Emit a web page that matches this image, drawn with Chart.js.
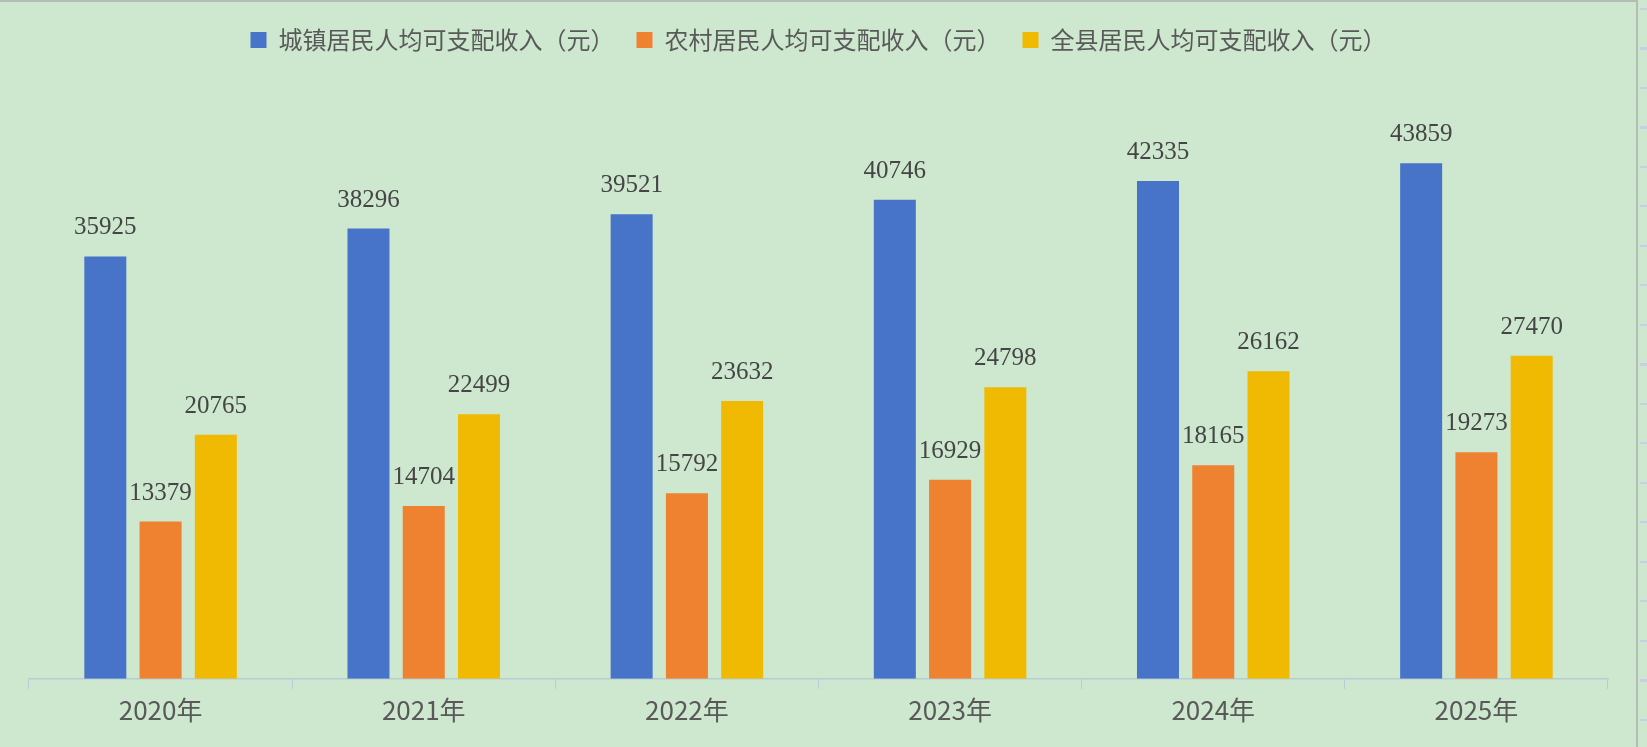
<!DOCTYPE html>
<html>
<head>
<meta charset="utf-8">
<script src="https://cdn.jsdelivr.net/npm/chart.js@4"></script>
<style>
  html, body { margin: 0; padding: 0; background: #cde8cf; overflow: hidden; }
  #wrap {
    position: absolute; left: 0; top: 0; width: 1638px; height: 747px;
    background: #cde8cf; border-top: 2px solid #b4bcb4; border-right: 2px solid #b4bcb4;
    box-sizing: border-box;
  }
  #cells {
    position: absolute; left: 1640px; top: 0; width: 20px; height: 747px;
    background: repeating-linear-gradient(to bottom, #cde8cf 0px, #cde8cf 8px, #c9cde6 8px, #c9cde6 10px, #cde8cf 10px, #cde8cf 39.5px);
  }
</style>
</head>
<body>
<div id="wrap"><canvas id="incomeChart"></canvas></div>
<div id="cells"></div>
<script>
const years = ["2020年", "2021年", "2022年", "2023年", "2024年", "2025年"];
const urban = [35925, 38296, 39521, 40746, 42335, 43859];
const rural = [13379, 14704, 15792, 16929, 18165, 19273];
const county = [20765, 22499, 23632, 24798, 26162, 27470];

const cjk = "'Noto Sans CJK SC', 'Noto Sans', sans-serif";

// numbers above each bar, placed from the bar elements
const barLabels = {
  id: "barLabels",
  afterDatasetsDraw(chart) {
    const ctx = chart.ctx;
    ctx.save();
    ctx.font = "25px 'Liberation Serif', 'DejaVu Serif', serif";
    ctx.fillStyle = "#454545";
    ctx.textAlign = "center";
    ctx.textBaseline = "alphabetic";
    chart.data.datasets.forEach((ds, i) => {
      chart.getDatasetMeta(i).data.forEach((bar, j) => {
        ctx.fillText(String(ds.data[j]), bar.x, bar.y - 22);
      });
    });
    ctx.restore();
  },
};

// extra room between the legend and the bars
const legendGap = {
  id: "legendGap",
  beforeInit(chart) {
    const fit = chart.legend.fit;
    chart.legend.fit = function () {
      fit.call(this);
      this.height += 29;
    };
  },
};

new Chart(document.getElementById("incomeChart"), {
  type: "bar",
  data: {
    labels: years,
    datasets: [
      { label: "城镇居民人均可支配收入（元）", data: urban, backgroundColor: "#4773c9" },
      { label: "农村居民人均可支配收入（元）", data: rural, backgroundColor: "#ee8230" },
      { label: "全县居民人均可支配收入（元）", data: county, backgroundColor: "#f1ba02" },
    ],
  },
  options: {
    responsive: true,
    maintainAspectRatio: false,
    animation: false,
    categoryPercentage: 0.63,
    barPercentage: 0.76,
    layout: { padding: { left: 29, right: 28, top: 4, bottom: 15 } },
    plugins: {
      tooltip: { enabled: false },
      legend: {
        position: "top",
        labels: {
          boxWidth: 16,
          boxHeight: 16,
          padding: 22,
          color: "#595959",
          font: { family: cjk, size: 24 },
        },
      },
    },
    scales: {
      x: {
        grid: {
          offset: true,
          drawOnChartArea: false,
          drawTicks: true,
          tickLength: 10,
          color: "#b9cbd6",
        },
        border: { color: "#b9cbd6", width: 1.5 },
        ticks: { color: "#595959", font: { family: cjk, size: 26 }, padding: 6 },
      },
      y: {
        display: false,
        min: 0,
        max: 50000,
      },
    },
  },
  plugins: [barLabels, legendGap],
});
</script>
</body>
</html>
